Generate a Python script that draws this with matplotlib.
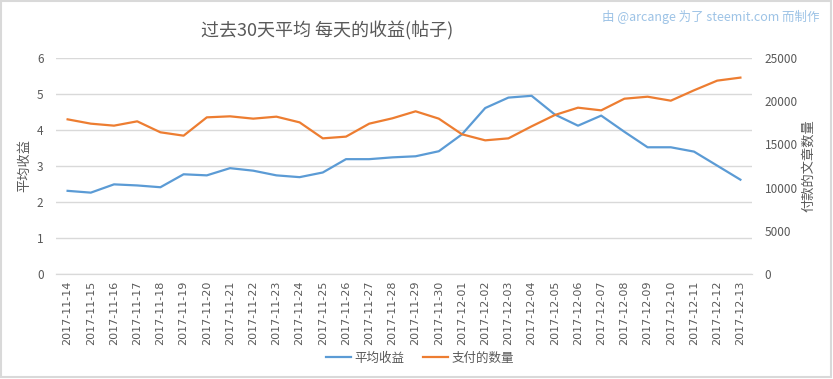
import matplotlib
matplotlib.use("Agg")
import matplotlib.pyplot as plt
from matplotlib.patches import Rectangle

plt.rcParams['font.family'] = ['Noto Sans CJK SC', 'DejaVu Sans']

dates = ["2017-11-14", "2017-11-15", "2017-11-16", "2017-11-17", "2017-11-18",
         "2017-11-19", "2017-11-20", "2017-11-21", "2017-11-22", "2017-11-23",
         "2017-11-24", "2017-11-25", "2017-11-26", "2017-11-27", "2017-11-28",
         "2017-11-29", "2017-11-30", "2017-12-01", "2017-12-02", "2017-12-03",
         "2017-12-04", "2017-12-05", "2017-12-06", "2017-12-07", "2017-12-08",
         "2017-12-09", "2017-12-10", "2017-12-11", "2017-12-12", "2017-12-13"]

avg_reward = [2.31, 2.26, 2.49, 2.46, 2.41, 2.77, 2.74, 2.94, 2.87, 2.74,
              2.69, 2.82, 3.19, 3.19, 3.24, 3.27, 3.41, 3.88, 4.61, 4.90,
              4.95, 4.43, 4.12, 4.40, 3.95, 3.52, 3.52, 3.40, 3.01, 2.62]

paid_posts = [17900, 17400, 17170, 17670, 16400, 16010, 18130, 18250, 17980, 18210,
              17550, 15700, 15900, 17400, 18020, 18830, 17980, 16170, 15470, 15700,
              17090, 18400, 19250, 18940, 20290, 20520, 20060, 21260, 22380, 22730]

left_ticks = [0, 1, 2, 3, 4, 5, 6]
right_ticks = [0, 5000, 10000, 15000, 20000, 25000]

title = "过去30天平均 每天的收益(帖子)"
credit = "由 @arcange 为了 steemit.com 而制作"
left_label = "平均收益"
right_label = "付款的文章数量"
series_names = ["平均收益", "支付的数量"]

blue = "#5B9BD5"
orange = "#ED7D31"
txt = "#595959"
grid = "#D9D9D9"

fig = plt.figure(figsize=(8.33, 3.79), dpi=100)
fig.patches.append(Rectangle((0.001, 0.004), 0.997, 0.994, transform=fig.transFigure,
                             fill=False, edgecolor="#D9D9D9", linewidth=1.5))

ax = fig.add_axes([56/833, 1-274/379, (752-56)/833, (274-58)/379])
x = list(range(len(dates)))
ax2 = ax.twinx()

ax.set_ylim(0, 6)
ax2.set_ylim(0, 25000)
ax.set_xlim(-0.5, len(dates)-0.5)
ax.set_yticks(left_ticks)
ax2.set_yticks(right_ticks)
ax.yaxis.grid(True, color=grid, linewidth=1)
ax.set_axisbelow(True)

l1, = ax.plot(x, avg_reward, color=blue, linewidth=1.6, solid_joinstyle='round', zorder=3)
l2, = ax2.plot(x, paid_posts, color=orange, linewidth=1.6, solid_joinstyle='round', zorder=3)

for a in (ax, ax2):
    for s in ("top", "left", "right"):
        a.spines[s].set_visible(False)
    a.spines["bottom"].set_color(grid)
    a.tick_params(axis='y', length=0, colors=txt, labelsize=8.5)
ax.tick_params(axis='y', pad=9)
ax2.tick_params(axis='y', pad=9)
ax.set_xticks(x)
ax.set_xticklabels(dates, rotation=90, fontsize=8, color=txt, family=['DejaVu Sans'])
ax.tick_params(axis='x', length=0, pad=5)

ax.set_ylabel(left_label, color=txt, fontsize=9.5)
ax2.set_ylabel(right_label, color=txt, fontsize=9.5)
ax.yaxis.set_label_coords((31-56)/696, 0.5)
ax2.yaxis.set_label_coords((802-56)/696, 0.5)

fig.text(327/833, 1-31/379, title, ha='center', va='center', fontsize=13, color=txt)
fig.text(820/833, 1-17/379, credit, ha='right', va='center', fontsize=9, color="#9DC3E6")

fig.legend([l1, l2], series_names, loc='center', bbox_to_anchor=(420/833, 1-358/379),
           ncol=2, frameon=False, fontsize=9, labelcolor=txt, handlelength=2.0,
           handletextpad=0.3, columnspacing=1.5)

fig.savefig("out.png", dpi=100)
